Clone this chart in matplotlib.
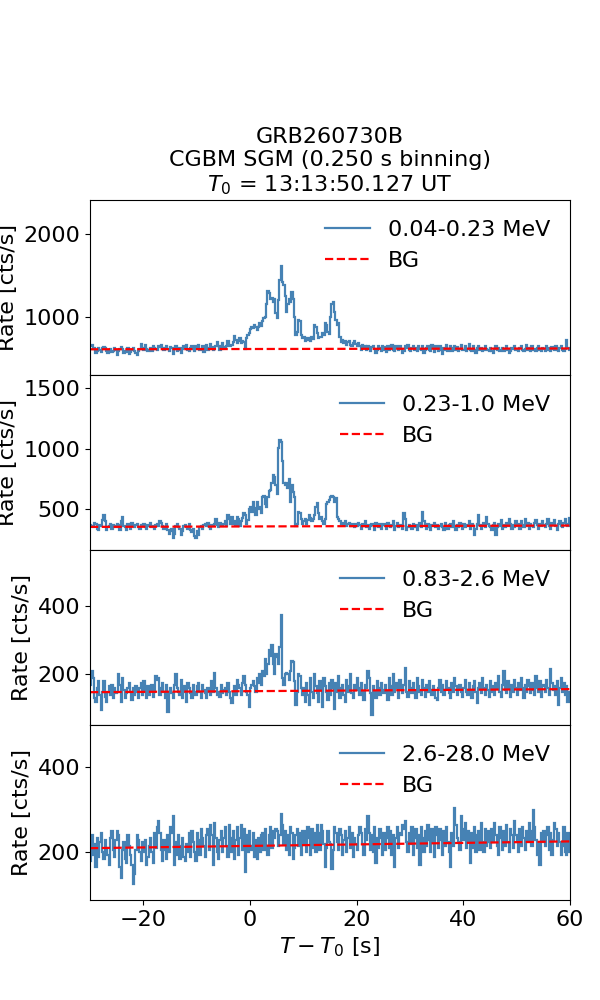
import numpy as np
import matplotlib
matplotlib.use("Agg")
import matplotlib.pyplot as plt

t_start = -30.0
bin_width = 0.25

labels = ["0.04-0.23 MeV", "0.23-1.0 MeV", "0.83-2.6 MeV", "2.6-28.0 MeV"]

rate_1 = [
    640, 655, 610, 625, 560, 590, 620, 600, 575, 615, 630, 620, 580, 555, 600, 610, 575, 590, 620, 600,
    540, 585, 610, 630, 605, 560, 590, 575, 620, 545, 570, 600, 615, 590, 560, 530, 580, 610, 670, 620,
    600, 660, 610, 580, 600, 625, 590, 640, 620, 610, 600, 645, 630, 660, 615, 600, 625, 640, 610, 590,
    630, 620, 550, 605, 640, 590, 600, 615, 560, 605, 640, 620, 655, 600, 590, 625, 650, 610, 580, 640,
    620, 660, 600, 610, 650, 570, 640, 660, 600, 620, 675, 630, 600, 610, 640, 690, 650, 600, 650, 680,
    630, 620, 650, 700, 650, 640, 660, 690, 770, 720, 680, 700, 740, 680, 700, 690, 610, 740, 780, 800,
    850, 880, 860, 900, 870, 840, 880, 920, 890, 950, 980, 1000, 1150, 1310, 1290, 1220, 1230, 1180, 1220, 1050,
    980, 1200, 1440, 1615, 1420, 1390, 1250, 1060, 1150, 1220, 1180, 1300, 1210, 1000, 780, 820, 960, 950, 780, 740,
    760, 700, 740, 720, 740, 710, 760, 730, 900, 880, 800, 740, 760, 750, 800, 780, 920, 900, 820, 790,
    1000, 1160, 1180, 1060, 960, 900, 920, 760, 690, 720, 680, 700, 660, 690, 700, 660, 640, 680, 700, 670,
    650, 680, 640, 600, 660, 620, 650, 600, 640, 610, 590, 630, 650, 605, 560, 600, 640, 620, 580, 650,
    600, 630, 570, 640, 600, 620, 660, 600, 580, 640, 620, 600, 650, 610, 560, 590, 640, 620, 660, 600,
    580, 620, 650, 600, 620, 580, 640, 610, 600, 650, 560, 600, 620, 640, 600, 590, 660, 620, 570, 640,
    610, 590, 640, 600, 550, 620, 600, 660, 590, 610, 640, 580, 620, 650, 600, 630, 580, 610, 660, 600,
    600, 640, 580, 610, 670, 600, 590, 640, 600, 560, 620, 650, 600, 620, 580, 600, 640, 610, 600, 580,
    620, 590, 560, 610, 640, 600, 620, 580, 600, 620, 590, 610, 650, 600, 560, 590, 620, 610, 640, 600,
    600, 580, 620, 640, 600, 590, 610, 660, 600, 620, 590, 640, 600, 610, 580, 620, 650, 600, 580, 620,
    610, 590, 640, 600, 620, 580, 630, 610, 600, 650, 600, 590, 620, 640, 600, 580, 610, 720, 620, 600,
]

rate_2 = [
    370, 360, 350, 390, 380, 340, 330, 370, 360, 410, 450, 400, 330, 350, 360, 380, 340, 370, 360, 350,
    380, 370, 330, 400, 440, 360, 350, 330, 380, 370, 340, 390, 360, 350, 370, 380, 350, 340, 370, 360,
    380, 350, 340, 370, 360, 390, 350, 360, 340, 370, 380, 360, 400, 390, 360, 340, 350, 380, 330, 300,
    320, 340, 260, 300, 360, 380, 350, 340, 290, 320, 360, 370, 350, 340, 380, 330, 310, 340, 280, 260,
    320, 290, 350, 360, 340, 370, 380, 360, 390, 350, 340, 370, 360, 380, 420, 370, 350, 390, 370, 360,
    380, 400, 360, 450, 420, 380, 440, 380, 400, 370, 440, 420, 360, 400, 430, 470, 450, 380, 410, 500,
    520, 480, 560, 510, 450, 560, 500, 520, 470, 600, 610, 540, 520, 600, 650, 660, 720, 780, 770, 700,
    630, 1010, 1070, 1060, 900, 720, 700, 720, 680, 750, 560, 700, 640, 600, 360, 380, 480, 470, 420, 380,
    400, 420, 380, 410, 450, 430, 400, 420, 450, 520, 550, 470, 420, 440, 400, 380, 420, 540, 560, 580,
    600, 610, 600, 560, 590, 440, 420, 400, 380, 390, 370, 400, 360, 380, 390, 360, 380, 370, 350, 380,
    360, 390, 370, 340, 380, 360, 400, 350, 370, 340, 360, 380, 370, 330, 390, 360, 350, 380, 340, 370,
    380, 360, 340, 390, 360, 350, 370, 400, 330, 360, 390, 350, 370, 360, 340, 470, 420, 330, 350, 370,
    360, 340, 380, 350, 370, 330, 360, 390, 350, 480, 400, 360, 340, 380, 350, 330, 370, 360, 390, 350,
    370, 340, 360, 380, 350, 330, 390, 360, 340, 370, 380, 350, 400, 360, 330, 370, 350, 390, 360, 340,
    380, 350, 370, 360, 400, 340, 380, 360, 290, 340, 380, 450, 370, 340, 360, 390, 350, 440, 380, 360,
    350, 330, 370, 390, 290, 350, 380, 360, 410, 340, 370, 350, 390, 360, 420, 380, 340, 370, 350, 400,
    360, 380, 340, 400, 370, 350, 420, 360, 390, 340, 380, 360, 350, 390, 410, 370, 340, 380, 360, 400,
    370, 350, 380, 420, 360, 340, 390, 370, 410, 360, 330, 380, 400, 360, 350, 390, 420, 380, 360, 430,
]

rate_3 = [
    170, 210, 190, 130, 120, 160, 180, 140, 95, 150, 180, 135, 120, 150, 165, 140, 170, 130, 160, 145,
    150, 200, 170, 120, 190, 155, 130, 145, 160, 175, 150, 125, 160, 140, 165, 150, 130, 160, 175, 140,
    180, 150, 130, 165, 140, 155, 170, 135, 150, 195, 185, 190, 140, 160, 175, 150, 130, 170, 90, 150,
    160, 145, 130, 170, 200, 160, 150, 140, 185, 130, 165, 150, 120, 175, 160, 145, 130, 170, 150, 140,
    165, 175, 150, 130, 170, 155, 145, 130, 160, 150, 140, 180, 150, 205, 160, 140, 150, 135, 170, 145,
    155, 160, 140, 175, 150, 130, 115, 150, 165, 140, 185, 170, 160, 140, 175, 195, 170, 150, 140, 105,
    160, 170, 180, 165, 150, 190, 175, 200, 170, 210, 195, 245, 200, 230, 270, 255, 285, 230, 200, 260,
    250, 230, 280, 375, 190, 170, 200, 205, 200, 185, 210, 240, 235, 180, 110, 150, 200, 195, 160, 140,
    160, 120, 175, 140, 110, 190, 150, 130, 200, 165, 145, 120, 180, 155, 105, 190, 165, 150, 125, 175,
    140, 185, 160, 100, 175, 150, 195, 130, 160, 170, 140, 120, 185, 150, 165, 200, 145, 130, 170, 155,
    190, 160, 140, 175, 150, 125, 170, 160, 210, 190, 145, 80, 165, 150, 130, 180, 160, 140, 175, 155,
    145, 170, 150, 125, 190, 165, 140, 200, 150, 175, 160, 130, 185, 160, 145, 170, 220, 150, 135, 180,
    160, 145, 175, 150, 130, 190, 165, 150, 140, 185, 160, 135, 170, 150, 180, 155, 140, 165, 150, 130,
    125, 160, 185, 150, 170, 140, 155, 180, 160, 145, 130, 175, 150, 190, 165, 140, 155, 170, 150, 135,
    160, 185, 150, 140, 175, 155, 130, 165, 180, 150, 115, 160, 175, 145, 190, 160, 140, 170, 155, 135,
    180, 150, 165, 140, 175, 160, 195, 150, 135, 170, 210, 155, 145, 180, 160, 135, 170, 150, 185, 160,
    140, 175, 155, 190, 160, 130, 170, 150, 185, 165, 145, 175, 155, 140, 195, 160, 150, 180, 135, 165,
    170, 150, 185, 160, 140, 215, 175, 155, 165, 140, 180, 110, 160, 190, 150, 175, 140, 165, 120, 150,
]

rate_4 = [
    180, 240, 195, 220, 165, 235, 190, 225, 245, 200, 185, 230, 210, 195, 170, 235, 250, 205, 190, 230,
    250, 240, 165, 140, 205, 225, 185, 175, 240, 215, 195, 170, 125, 150, 205, 240, 230, 200, 180, 225,
    200, 230, 170, 190, 215, 235, 200, 175, 245, 210, 260, 275, 245, 205, 180, 230, 205, 185, 240, 200,
    260, 245, 285, 170, 225, 195, 240, 185, 215, 235, 190, 180, 220, 200, 245, 190, 250, 225, 200, 180,
    245, 230, 195, 255, 235, 215, 190, 240, 255, 205, 265, 240, 170, 270, 235, 200, 185, 230, 250, 200,
    235, 260, 215, 190, 265, 235, 200, 250, 185, 230, 260, 195, 235, 265, 205, 255, 155, 240, 200, 250,
    215, 205, 245, 190, 230, 185, 235, 200, 240, 245, 205, 255, 215, 195, 240, 260, 210, 250, 235, 255,
    250, 215, 240, 290, 265, 220, 250, 205, 240, 195, 260, 245, 185, 210, 240, 255, 215, 245, 195, 250,
    220, 250, 200, 260, 235, 195, 255, 210, 245, 200, 265, 245, 205, 265, 250, 220, 165, 210, 250, 225,
    220, 160, 205, 260, 245, 225, 205, 255, 240, 195, 230, 250, 200, 235, 260, 210, 245, 190, 235, 220,
    205, 240, 260, 245, 220, 195, 255, 230, 285, 245, 205, 240, 200, 260, 175, 235, 210, 255, 235, 195,
    245, 205, 235, 260, 210, 250, 195, 240, 165, 235, 260, 210, 245, 240, 265, 255, 275, 225, 200, 245,
    220, 260, 195, 235, 255, 210, 240, 170, 260, 235, 200, 250, 215, 265, 230, 200, 255, 225, 190, 260,
    240, 210, 255, 230, 195, 250, 215, 260, 225, 200, 165, 245, 215, 305, 265, 235, 225, 205, 285, 255,
    230, 270, 210, 250, 225, 175, 245, 210, 260, 200, 240, 250, 205, 270, 225, 200, 255, 215, 250, 225,
    210, 255, 225, 270, 240, 215, 195, 260, 235, 205, 250, 215, 265, 225, 200, 255, 240, 210, 275, 240,
    225, 200, 255, 215, 260, 235, 205, 250, 225, 270, 250, 215, 300, 260, 230, 195, 220, 170, 245, 225,
    250, 215, 240, 260, 205, 245, 195, 230, 270, 255, 215, 245, 225, 195, 215, 260, 200, 195, 245, 200,
]

rates = [rate_1, rate_2, rate_3, rate_4]

# background line endpoints (value at t=-30, value at t=60)
bg_start = [605, 355, 148, 210]
bg_end = [615, 366, 157, 226]

ylims = [(293, 2416), (164, 1610), (52, 564), (88, 500)]
yticks = [[1000, 2000], [500, 1000, 1500], [200, 400], [200, 400]]

fig, axes = plt.subplots(4, 1, figsize=(6, 10), dpi=100, sharex=True)
fig.subplots_adjust(left=0.15, right=0.95, top=0.8, bottom=0.1, hspace=0)

for i, ax in enumerate(axes):
    vals = np.array(rates[i], dtype=float)
    edges = t_start + bin_width * np.arange(len(vals) + 1)
    ax.stairs(vals, edges, baseline=None, color="steelblue", lw=1.6, label=labels[i])
    ax.plot([-30, 60], [bg_start[i], bg_end[i]], color="red", ls="--", lw=1.6, label="BG")
    ax.set_xlim(-30, 60)
    ax.set_ylim(*ylims[i])
    ax.set_yticks(yticks[i])
    ax.set_ylabel("Rate [cts/s]", fontsize=16)
    ax.tick_params(labelsize=16)
    ax.legend(loc="upper right", frameon=False, fontsize=16)
    if i < 3:
        ax.tick_params(axis="x", bottom=False, labelbottom=False)

axes[-1].set_xticks([-20, 0, 20, 40, 60])
axes[-1].set_xlabel(r"$T - T_0$ [s]", fontsize=16)
axes[0].set_title("GRB260730B\nCGBM SGM (0.250 s binning)\n$T_0$ = 13:13:50.127 UT", fontsize=16)

fig.savefig("out.png")
